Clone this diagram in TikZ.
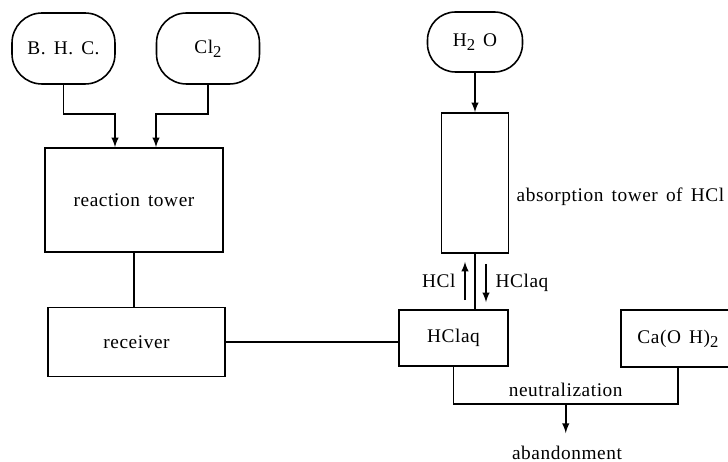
\documentclass[tikz,border=0pt]{standalone}
\usepackage{fontspec}
\setmainfont{Liberation Serif}[LetterSpace=3,WordSpace=1.5]
\usetikzlibrary{calc}
\newcommand{\lowtwo}{\raisebox{-0.45ex}{\fontsize{9.5}{10}\selectfont 2}}

\begin{document}
\begin{tikzpicture}[x=0.02cm,y=-0.02cm,line width=0.9pt,
  	every node/.style={font=\fontsize{11}{13}\selectfont},
  	feed/.style={draw,rounded corners=0.6cm,minimum width=2.06cm,minimum height=1.42cm},
  	plant/.style={draw,minimum width=#1}]
  	\useasboundingbox (0,0) rectangle (728,462);
  	\node[feed] (bhc) at (63.5,48.5) {B. H. C.};
  	\node[feed] (cl) at (208,48.5) {Cl\lowtwo};
  	\node[feed,rounded corners=0.56cm,minimum width=1.9cm,minimum height=1.2cm] (h2o) at (475,42) {H\lowtwo\ O};
  	\node[plant=3.56cm,minimum height=2.08cm] (reaction) at (134,200) {reaction tower};
  	\node[plant=3.54cm,minimum height=1.38cm] (receiver) at (136.5,342) {receiver};
  	\node[plant=1.34cm,minimum height=2.8cm] (absorb) at (475,183) {};
  	\node[anchor=west] (absorbtext) at (510,197) {absorption tower of HCl};
  	\node[plant=2.18cm,minimum height=1.12cm] (hclaq) at (453.5,338) {HClaq};
  	\node[plant=2.28cm,minimum height=1.14cm] (caoh) at (678,338.5) {Ca(O H)\lowtwo};
  	\node[inner sep=7pt] (waste) at (567,453) {abandonment};

  	\draw[-latex] (bhc.south) -- ++(0,29) -| ($(reaction.north)+(-19,0)$);
  	\draw[-latex] (cl.south) -- ++(0,29) -| ($(reaction.north)+(22,0)$);
  	\draw (reaction.south) -- (reaction.south |- receiver.north);
  	\draw (receiver.east) -- (receiver.east -| hclaq.west);
  	\draw[-latex] (h2o.south) -- (absorb.north);
  	\draw (absorb.south) -- (absorb.south |- hclaq.north);
  	\draw[-latex] ($(absorb.south |- hclaq.north)+(-10,-9)$) -- node[left,inner sep=5pt] {HCl} ($(absorb.south)+(-10,8)$);
  	\draw[-latex] ($(absorb.south)+(11,10)$) -- node[right,inner sep=5pt] {HClaq} ($(absorb.south |- hclaq.north)+(11,-7)$);
  	\coordinate (low) at ($(hclaq.south)+(0,37)$);
  	\draw (hclaq.south) -- (low) -- node[above] {neutralization} coordinate (mix) (low -| caoh.south) -- (caoh.south);
  	\draw[-latex] (mix) -- (mix |- waste.north);
  \end{tikzpicture}
\end{document}
